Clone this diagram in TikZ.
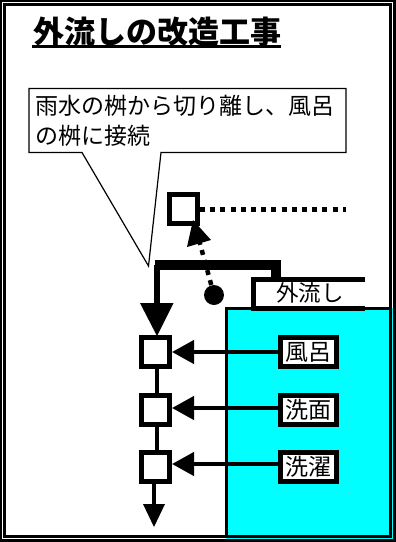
\documentclass[tikz,border=0pt]{standalone}
\usepackage{fontspec}
\setmainfont{Noto Sans CJK JP}
\usetikzlibrary{arrows.meta}
\definecolor{aqua}{RGB}{0,255,255}
\tikzset{
 x=1pt,y=-1pt,
 boxnode/.style={draw=black,line width=5pt,fill=white,minimum width=28pt,minimum height=29pt,inner sep=0pt},
 labelnode/.style={draw=black,line width=5pt,fill=white,minimum width=56pt,minimum height=29pt,inner sep=0pt,font=\fontsize{23}{23}\selectfont},
 thick arrow/.style={line width=4.3pt,-{Triangle[length=22pt,width=23pt]}},
}
\begin{document}
\begin{tikzpicture}
\useasboundingbox (0,0) rectangle (396,542);
\fill[black] (0,0) rectangle (396,542);
\fill[white] (2,2) rectangle (393,539);
\fill[aqua] (226,308) rectangle (393,539);
\draw[line width=3pt] (4.5,4.5) rectangle (390.5,536.5);
\draw[line width=3pt] (226,536.5) -- (226,308) -- (390.5,308);
% title
\node[anchor=west,inner sep=0pt,font=\fontsize{31}{31}\selectfont\bfseries] (title) at (33,31.5) {外流しの改造工事};
\draw[line width=3pt] (32,46.5) -- (281,46.5);
% callout
\draw[line width=1.2pt,fill=white] (29,88.5) -- (346,88.5) -- (346,152.5) -- (161,152.5) -- (148.5,266) -- (82,152.5) -- (29,152.5) -- cycle;
\node[anchor=west,inner sep=0pt,font=\fontsize{23}{23}\selectfont] (c1) at (35,106) {雨水の桝から切り離し、風呂};
\node[anchor=west,inner sep=0pt,font=\fontsize{23}{23}\selectfont] (c2) at (35,136) {の桝に接続};
% nodes
\node[boxnode] (top) at (183.5,209) {};
\node[boxnode] (a) at (155.5,352) {};
\node[boxnode] (b) at (155.5,410) {};
\node[boxnode] (c) at (155.5,466.5) {};
\coordinate (dotend) at (345.5,209);
\coordinate (ball) at (214,295);
\coordinate (pipeR) at (275.5,265);
\coordinate (pipeR2) at (275.5,279);
\coordinate (pipeL) at (157,265);
\draw[line width=5pt,dash pattern=on 5pt off 5.2pt] (top.east) -- (dotend);
\fill (ball) circle (10pt);
\draw[line width=4.5pt,dash pattern=on 5pt off 5.4pt] (ball) -- (199,240);
\fill (193,220) -- (211,240) -- (187,247) -- cycle;
\draw[line width=6pt] (157,265) -- (157,305);
\draw[line width=10pt] (pipeR2) -- (pipeR) -- (155,265);
\fill (140,303) -- (173.5,303) -- (157,336) -- cycle;
\draw[line width=4.5pt] (a.south -| 157,0) -- (b.north -| 157,0);
\draw[line width=4.5pt] (b.south -| 157,0) -- (c.north -| 157,0);
\draw[line width=4.5pt] (c.south -| 154,0) -- (154,506);
\fill (143,504) -- (165,504) -- (154,527) -- cycle;
% label
\fill[white] (256,281) rectangle (365,307);
\draw[line width=5pt] (365,279.5) -- (253.5,279.5) -- (253.5,308.5) -- (365,308.5);
\node[inner sep=0pt,font=\fontsize{22.5}{22.5}\selectfont] (gai) at (310,293) {外流し};
\node[labelnode] (l1) at (308.5,352) {風呂};
\node[labelnode] (l2) at (308.5,410) {洗面};
\node[labelnode] (l3) at (308.5,466.5) {洗濯};
\draw[thick arrow] (l1) -- (a);
\draw[thick arrow] ([yshift=2pt]l2.west) -- ([yshift=2pt]b.east);
\draw[thick arrow] ([yshift=2.5pt]l3.west) -- ([yshift=2.5pt]c.east);
\end{tikzpicture}
\end{document}
